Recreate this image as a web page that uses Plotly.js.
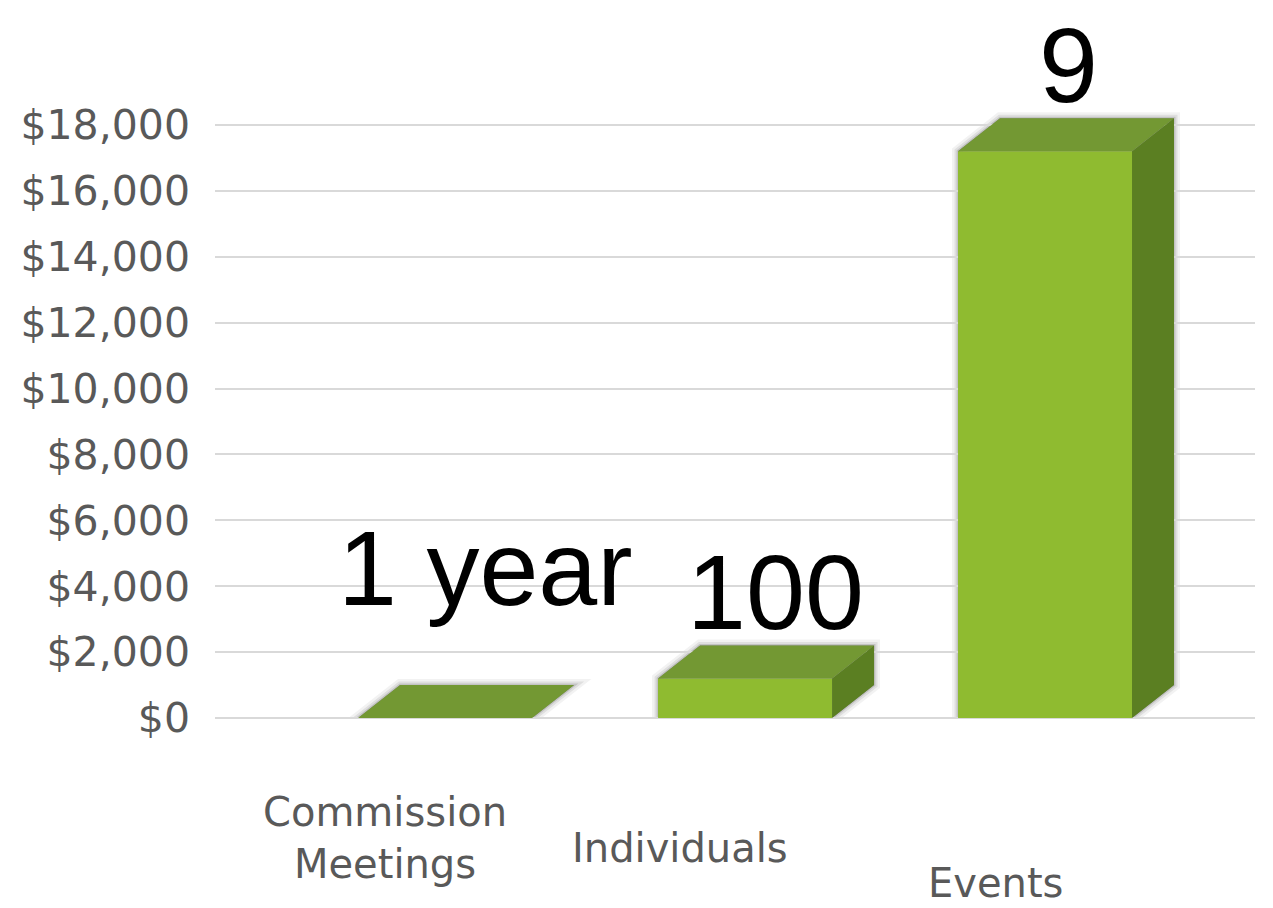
<!DOCTYPE html>
<html><head><meta charset="utf-8">
<script src="https://cdn.plot.ly/plotly-3.0.1.min.js"></script>
<style>html,body{margin:0;padding:0;background:#fff}#chart{width:1273px;height:908px}</style>
</head><body><div id="chart"></div>
<script>
// ---- data ----
const categories = ['Commission Meetings', 'Individuals', 'Events'];
const categoryLabels = ['Commission<br>Meetings', 'Individuals', 'Events'];
const costs = [0, 1200, 17200];
const barLabels = ['1 year', '100', '9'];
const yTickValues = [0, 2000, 4000, 6000, 8000, 10000, 12000, 14000, 16000, 18000];
const yTickLabels = ['$0', '$2,000', '$4,000', '$6,000', '$8,000', '$10,000', '$12,000', '$14,000', '$16,000', '$18,000'];

// ---- style constants ----
const BW = 0.58;     // bar width (category units)
const DX = 0.14;     // pseudo-3D depth, x (category units)
const DY = 1000;     // pseudo-3D depth, y (value units)
const FRONT = '#8fbb30', TOP = '#739833', SIDE = '#5b7f22';
const idx = categories.map((c, i) => i);

const shapes = [];
idx.forEach(i => {
  const v = costs[i], x0 = i - BW / 2, x1 = i + BW / 2;
  // soft shadow halo
  const sil = `M${x0},0 L${x0},${v} L${x0 + DX},${v + DY} L${x1 + DX},${v + DY} L${x1 + DX},${DY} L${x1},0 Z`;
  [[12, 'rgba(0,0,0,0.05)'], [7, 'rgba(0,0,0,0.08)'], [3, 'rgba(0,0,0,0.12)']].forEach(([w, c]) => {
    shapes.push({type: 'path', xref: 'x', yref: 'y', path: sil, layer: 'below',
      line: {color: c, width: w}, fillcolor: 'rgba(0,0,0,0.12)'});
  });
  // top face
  shapes.push({type: 'path', xref: 'x', yref: 'y', layer: 'above',
    path: `M${x0},${v} L${x1},${v} L${x1 + DX},${v + DY} L${x0 + DX},${v + DY} Z`,
    fillcolor: TOP, line: {width: 0}});
  // side face
  if (v > 0) {
    shapes.push({type: 'path', xref: 'x', yref: 'y', layer: 'above',
      path: `M${x1},0 L${x1},${v} L${x1 + DX},${v + DY} L${x1 + DX},${DY} Z`,
      fillcolor: SIDE, line: {width: 0}});
  }
});

const bigLabelShift = [[40, 150], [30, 86], [23, 86]];
const catLabelShift = [[-60, -120], [-65, -130], [-50, -165]];
const annotations = [];
idx.forEach(i => {
  annotations.push({x: i, y: costs[i], xref: 'x', yref: 'y', text: barLabels[i], showarrow: false,
    xshift: bigLabelShift[i][0], yshift: bigLabelShift[i][1], yanchor: 'middle',
    font: {family: 'Liberation Sans, Arial, sans-serif', size: 106, color: '#000'}});
  annotations.push({x: i, y: 0, xref: 'x', yref: 'y', text: categoryLabels[i], showarrow: false,
    xshift: catLabelShift[i][0], yshift: catLabelShift[i][1], yanchor: 'middle',
    font: {family: 'DejaVu Sans, sans-serif', size: 40, color: '#595959'}});
});

const trace = {
  type: 'bar', x: idx, y: costs, width: BW,
  marker: {color: FRONT, line: {width: 0}},
  hoverinfo: 'skip', cliponaxis: false
};

const layout = {
  width: 1273, height: 908,
  margin: {l: 215, r: 18, t: 92, b: 190},
  paper_bgcolor: '#fff', plot_bgcolor: '#fff',
  showlegend: false,
  xaxis: {range: [-0.767, 2.7], showticklabels: false, showgrid: false, zeroline: false,
    showline: false, ticks: '', fixedrange: true},
  yaxis: {range: [0, 19000], tickmode: 'array', tickvals: yTickValues, ticktext: yTickLabels,
    showgrid: true, gridcolor: '#d9d9d9', gridwidth: 2, zeroline: true, zerolinecolor: '#d9d9d9',
    zerolinewidth: 2, showline: false, ticks: '', ticklabelstandoff: 24, automargin: false,
    tickfont: {family: 'DejaVu Sans, sans-serif', size: 41, color: '#595959'}},
  shapes: shapes,
  annotations: annotations
};

Plotly.newPlot('chart', [trace], layout, {displayModeBar: false, staticPlot: true});
</script>
</body></html>
